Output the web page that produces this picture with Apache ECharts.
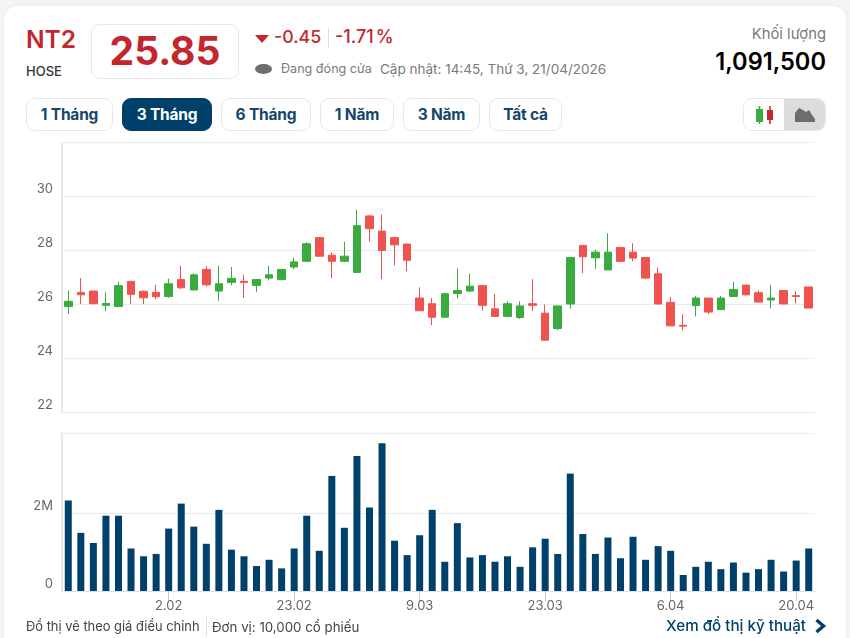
<!DOCTYPE html>
<html lang="vi">
<head>
<meta charset="UTF-8">
<title>NT2</title>
<script src="https://cdn.jsdelivr.net/npm/echarts@6/dist/echarts.min.js"></script>
<style>
    html, body { margin: 0; padding: 0; background: #f4f4f4; }
    body { width: 850px; height: 638px; overflow: hidden; position: relative; font-family: Inter, sans-serif; }
    #card { position: absolute; left: 3px; top: 5px; width: 844px; height: 660px; background: #fff; border: 1px solid #ececec; border-radius: 14px; box-sizing: border-box; }
    #chart { position: absolute; left: 0; top: 0; width: 850px; height: 638px; }
    .t { position: absolute; white-space: nowrap; line-height: 1; }
    .red { color: #c1272d; }
    .grey { color: #7a7a7a; }
    .btn { position: absolute; top: 98px; height: 33px; box-sizing: border-box; border: 1px solid #e8e8e8; border-radius: 9px; background: #fff;
           font-size: 15.5px; font-weight: 700; letter-spacing: -0.2px; color: #15456b; text-align: center; line-height: 31px; }
    .btn.on { background: #00416b; border-color: #00416b; color: #fff; }
</style>
</head>
<body>
<div id="card"></div>

<!--页头-->
<div class="t red" style="left:26px;top:27px;font-size:24.5px;font-weight:600">NT2</div>
<div class="t" style="left:26px;top:65px;font-size:13px;font-weight:500;color:#333">HOSE</div>
<div style="position:absolute;left:91px;top:24px;width:148px;height:55px;box-sizing:border-box;border:1px solid #e8e8e8;border-radius:9px"></div>
<div class="t red" style="left:91px;width:148px;text-align:center;top:31px;font-size:39px;font-weight:700">25.85</div>
<svg style="position:absolute;left:255px;top:35px" width="14" height="8"><path d="M0 0H14L7 8Z" fill="#c1272d"/></svg>
<div class="t red" style="left:274px;top:28px;font-size:17.8px;font-weight:500">-0.45</div>
<div style="position:absolute;left:328px;top:28px;width:1px;height:20px;background:#ddd"></div>
<div class="t red" style="left:335px;top:28px;font-size:18px;font-weight:500">-1.71<span style="margin-left:2px">%</span></div>
<div style="position:absolute;left:255px;top:64px;width:17px;height:10px;border-radius:50%;background:#6d6d6d"></div>
<div class="t grey" style="left:281px;top:63px;font-size:12.6px">Đang đóng cửa</div>
<div class="t grey" style="left:380px;top:63px;font-size:13.5px">Cập nhật: 14:45, Thứ 3, 21/04/2026</div>
<div class="t grey" style="right:24px;top:27px;font-size:14.8px">Khối lượng</div>
<div class="t" style="right:24px;top:50px;font-size:23.6px;font-weight:600;color:#000">1,091,500</div>

<div class="btn" style="left:26px;width:87px">1 Tháng</div>
<div class="btn on" style="left:122px;width:90px">3 Tháng</div>
<div class="btn" style="left:221px;width:90px">6 Tháng</div>
<div class="btn" style="left:320px;width:74px">1 Năm</div>
<div class="btn" style="left:403px;width:77px">3 Năm</div>
<div class="btn" style="left:489px;width:73px">Tất cả</div>

<div style="position:absolute;left:743px;top:98px;width:83px;height:33px;box-sizing:border-box;border:1px solid #e8e8e8;border-radius:9px;overflow:hidden">
    <div style="position:absolute;left:40px;top:0;width:42px;height:33px;background:#dcdcdc"></div>
    <svg style="position:absolute;left:10px;top:7px" width="20" height="19">
        <path d="M5.5 0V18" stroke="#3aab3f" stroke-width="1.5"/><rect x="2" y="3" width="7" height="13" fill="#3aab3f"/>
        <path d="M16 0V18" stroke="#c1272d" stroke-width="1.5"/><rect x="13" y="4" width="6" height="10" fill="#c1272d"/>
    </svg>
    <svg style="position:absolute;left:51px;top:8px" width="20" height="15"><path d="M0 15V6L4 1L8 3L11 5L14 3L17 8L20 12V15Z" fill="#6d6d6d"/></svg>
</div>

<div id="chart"></div>

<!--页脚-->
<div class="t" style="left:26px;top:621px;font-size:12.9px;color:#444">Đồ thị vẽ theo giá điều chỉnh</div>
<div style="position:absolute;left:206px;top:617px;width:1px;height:20px;background:#ddd"></div>
<div class="t" style="left:212px;top:621px;font-size:13.3px;color:#444">Đơn vị: 10,000 cổ phiếu</div>
<div class="t" style="left:666px;top:618px;font-size:15.2px;font-weight:500;color:#00416b">Xem đồ thị kỹ thuật</div>
<svg style="position:absolute;left:814px;top:618px" width="13" height="16"><path d="M2.5 2L9.5 8L2.5 14" fill="none" stroke="#00416b" stroke-width="3.4"/></svg>

<script>
    var dates = ['21.01','22.01','23.01','26.01','27.01','28.01','29.01','30.01','2.02','3.02','4.02','5.02','6.02','9.02','10.02','11.02','12.02','13.02','23.02','24.02','25.02','26.02','27.02','2.03','3.03','4.03','5.03','6.03','9.03','10.03','11.03','12.03','13.03','16.03','17.03','18.03','19.03','20.03','23.03','24.03','25.03','26.03','27.03','30.03','31.03','1.04','2.04','3.04','6.04','7.04','8.04','9.04','10.04','13.04','14.04','15.04','16.04','17.04','20.04','21.04'];
    var opens = [25.91,26.43,26.48,25.95,25.91,26.84,26.47,26.43,26.28,26.91,26.52,27.28,26.48,26.80,26.84,26.69,26.96,26.90,27.37,27.58,28.46,27.81,27.58,27.17,29.26,28.70,28.46,28.22,26.22,26.01,25.51,26.39,26.48,26.68,25.82,25.54,25.50,26.01,25.66,25.09,26.00,28.17,27.71,27.26,28.09,27.92,27.72,27.12,26.06,25.21,25.94,26.22,25.79,26.28,26.70,26.42,26.15,26.50,26.31,26.63];
    var closes = [26.10,26.34,26.01,26.02,26.68,26.36,26.23,26.27,26.75,26.60,27.08,26.71,26.75,26.95,26.80,26.91,27.08,27.28,27.56,28.23,27.77,27.58,27.77,28.90,28.79,27.98,28.19,27.62,25.75,25.51,26.38,26.50,26.66,25.95,25.54,26.01,25.93,25.95,24.66,25.93,27.72,27.75,27.92,27.92,27.58,27.70,26.96,26.00,25.19,25.18,26.22,25.70,26.22,26.54,26.34,26.07,26.22,26.00,26.28,25.85];
    var lows = [25.63,25.99,25.99,25.74,25.91,26.01,25.99,26.18,26.23,26.55,26.52,26.64,26.12,26.69,26.22,26.44,26.87,26.90,27.29,27.58,27.77,26.96,27.54,27.17,28.31,26.92,27.43,27.21,25.75,25.21,25.51,26.20,26.44,25.75,25.54,25.51,25.45,25.74,24.66,25.03,25.83,27.14,27.30,27.26,27.55,27.58,26.92,26.00,25.19,25.02,25.54,25.63,25.79,26.28,26.32,26.07,25.84,26.00,26.02,25.85];
    var highs = [26.50,26.96,26.48,26.43,26.82,26.84,26.50,26.71,26.94,27.42,27.14,27.40,27.42,27.37,27.08,26.91,27.42,27.28,27.71,28.29,28.46,27.92,28.30,29.48,29.31,29.31,28.46,28.22,26.62,26.22,26.42,27.32,27.12,26.68,26.38,26.10,26.10,26.92,25.98,25.93,27.72,28.17,28.01,28.62,28.09,28.25,27.72,27.35,26.26,25.62,26.30,26.22,26.30,26.82,26.70,26.50,26.70,26.50,26.47,26.63];
    var volumes = [2.32,1.49,1.23,1.93,1.93,1.09,0.89,0.95,1.60,2.24,1.65,1.21,2.08,1.06,0.89,0.64,0.80,0.58,1.09,1.93,1.03,2.95,1.62,3.46,2.14,3.79,1.29,0.92,1.43,2.08,0.75,1.74,0.86,0.92,0.75,0.89,0.62,1.12,1.34,0.95,3.01,1.46,0.95,1.37,0.84,1.39,0.80,1.15,1.03,0.41,0.62,0.75,0.56,0.73,0.47,0.56,0.80,0.50,0.78,1.09];
    var dateTicks = [8, 18, 28, 38, 48, 58];
    var volumeTicks = [0, 2];

    var GREEN = '#3aab3f', RED = '#ef5350', BLUE = '#00416b', LINE = '#e8ebf1', AXIS = '#dde3ee';

    var candles = dates.map(function (d, i) {
        return [opens[i], closes[i], lows[i], highs[i]];
    });

    var myChart = echarts.init(document.getElementById('chart'));
    var option = {
        animation: false,
        textStyle: { fontFamily: 'Inter' },
        grid: [
            { left: 62, top: 142, width: 753, height: 270 },
            { left: 62, top: 433, width: 753, height: 158 }
        ],
        xAxis: [
            {
                type: 'category', gridIndex: 0, data: dates,
                axisLine: { lineStyle: { color: LINE } },
                axisTick: { show: false },
                axisLabel: { show: false },
                splitLine: { show: false }
            },
            {
                type: 'category', gridIndex: 1, data: dates, position: 'bottom', z: 10,
                axisLine: { show: true, onZero: false, lineStyle: { color: AXIS } },
                axisTick: { show: true, alignWithLabel: true, customValues: dateTicks, length: 10, lineStyle: { color: '#c4c9d3', width: 1 } },
                axisLabel: { customValues: dateTicks, color: '#666', fontSize: 13, margin: 9 },
                splitLine: { show: false }
            }
        ],
        yAxis: [
            {
                type: 'value', gridIndex: 0, min: 22, max: 32, interval: 2,
                axisLine: { show: true, lineStyle: { color: AXIS, width: 1.5 } },
                axisTick: { show: false },
                axisLabel: { color: '#666', fontSize: 13, margin: 9, verticalAlign: 'bottom', showMaxLabel: false },
                splitLine: { lineStyle: { color: LINE } }
            },
            {
                type: 'value', gridIndex: 1, min: 0, max: 4.05,
                axisLine: { show: true, lineStyle: { color: AXIS, width: 1.5 } },
                axisTick: { show: false, customValues: volumeTicks.concat(4.05) },
                axisLabel: {
                    customValues: volumeTicks, color: '#666', fontSize: 13, margin: 9, verticalAlign: 'bottom',
                    formatter: function (v) { return v ? v + 'M' : '0'; }
                },
                splitLine: { lineStyle: { color: LINE } }
            }
        ],
        series: [
            {
                name: 'Giá', type: 'candlestick', xAxisIndex: 0, yAxisIndex: 0, data: candles, barWidth: 8,
                itemStyle: { color: GREEN, color0: RED, borderColor: GREEN, borderColor0: RED, borderWidth: 1 }
            },
            {
                name: 'Khối lượng', type: 'bar', xAxisIndex: 1, yAxisIndex: 1, data: volumes, barWidth: 7,
                itemStyle: { color: BLUE }
            }
        ]
    };
    myChart.setOption(option);
</script>
</body>
</html>
